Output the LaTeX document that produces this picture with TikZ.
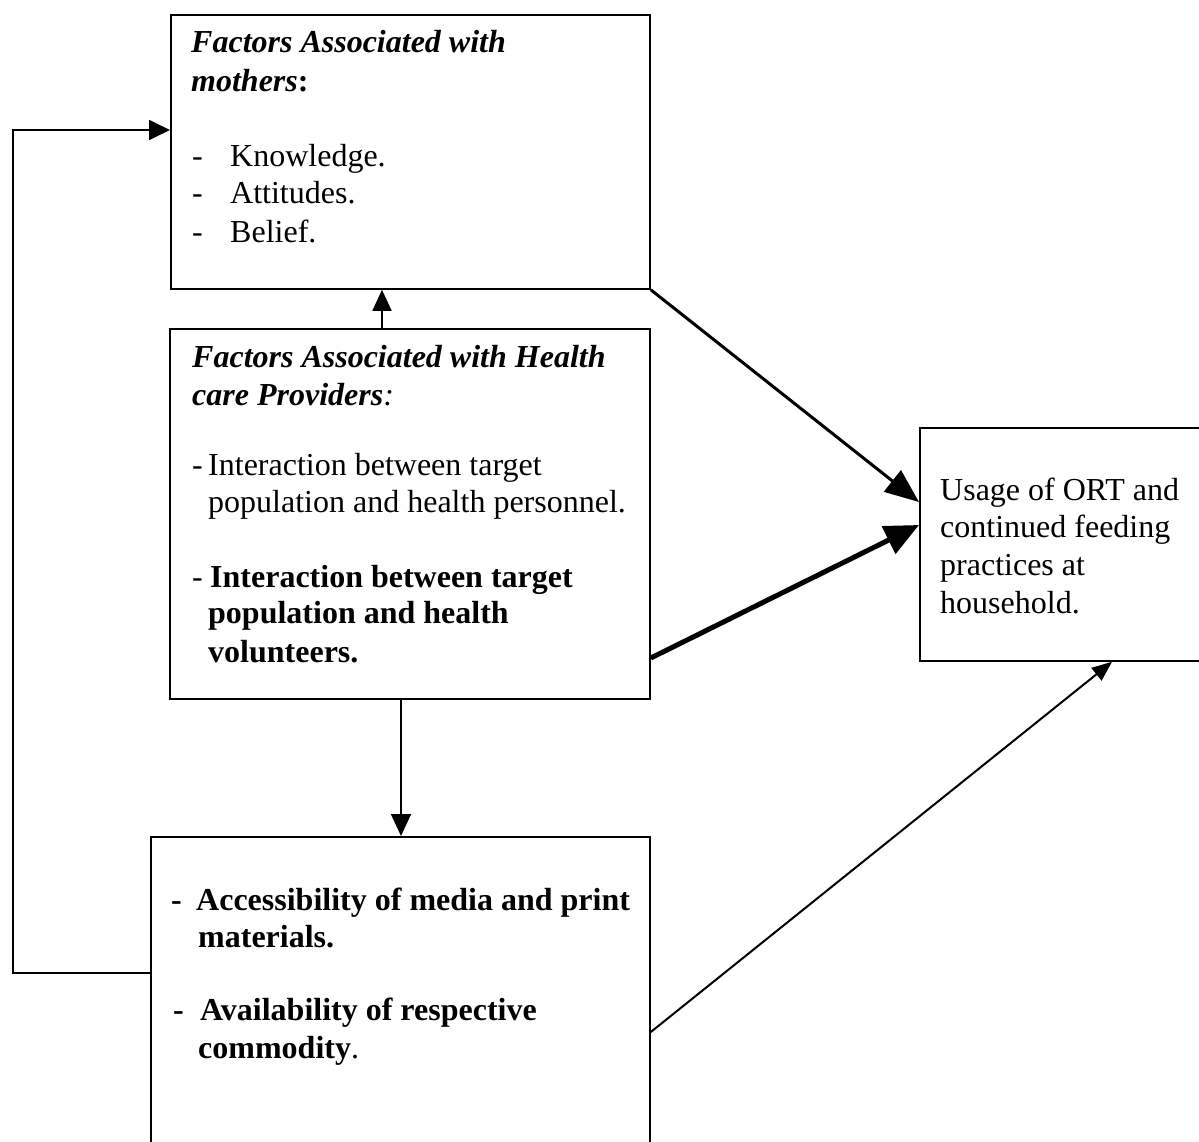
\documentclass[tikz,border=0pt]{standalone}
\usepackage{fontspec}
\setmainfont{Liberation Serif}
\usetikzlibrary{arrows.meta}
\newcommand\myfs{\fontsize{32}{38}\selectfont}
\tikzset{
  box/.style={draw, line width=1.8pt, rectangle, inner sep=0pt, anchor=north west},
  txt/.style={anchor=base west, inner sep=0pt, font=\myfs},
  conn/.style={line width=1.8pt},
}
\begin{document}
\begin{tikzpicture}[x=1pt,y=-1pt]
\useasboundingbox (0,0) rectangle (1199,1142);
\fill[white] (0,0) rectangle (1199,1142);
\clip (0,0) rectangle (1199,1142);

% boxes
\node[box, minimum width=479pt, minimum height=274pt] (A) at (170,14) {};
\node[box, minimum width=480pt, minimum height=370pt] (B) at (169,328) {};
\node[box, minimum width=499pt, minimum height=340pt] (C) at (150,836) {};
\node[box, minimum width=310pt, minimum height=233pt] (D) at (919,427) {};

% box A text
\node[txt] (aH1) at (191,53) {\bfseries\itshape Factors Associated with};
\node[txt] (aH2) at (191,92) {{\bfseries\itshape mothers}{\bfseries :}};
\node[txt] (aD1) at (192,167) {-};
\node[txt] (aK) at (230,167) {Knowledge.};
\node[txt] (aD2) at (192,204) {-};
\node[txt] (aAt) at (230,204) {Attitudes.};
\node[txt] (aD3) at (192,242) {-};
\node[txt] (aBe) at (230,242) {Belief.};

% box B text
\node[txt] (bH1) at (192,367) {\bfseries\itshape Factors Associated with Health};
\node[txt] (bH2) at (192,405) {{\bfseries\itshape care Providers}{\itshape :}};
\node[txt] (bD1) at (192,475) {-};
\node[txt] (bI1) at (208,475) {Interaction between target};
\node[txt] (bI2) at (208,512) {population and health personnel.};
\node[txt] (bD2) at (192,587) {-};
\node[txt] (bV1) at (210,587) {\bfseries Interaction between target};
\node[txt] (bV2) at (208,623) {\bfseries population and health};
\node[txt] (bV3) at (208,662) {\bfseries volunteers.};

% box C text
\node[txt] (cD1) at (171,910) {\bfseries -};
\node[txt] (cA1) at (196,910) {\bfseries Accessibility of media and print};
\node[txt] (cA2) at (198,947) {\bfseries materials.};
\node[txt] (cD2) at (173,1020) {\bfseries -};
\node[txt] (cB1) at (200,1020) {\bfseries Availability of respective};
\node[txt] (cB2) at (198,1058) {{\bfseries commodity}.};

% box D text
\node[txt] (d1) at (940,500) {Usage of ORT and};
\node[txt] (d2) at (940,537) {continued feeding};
\node[txt] (d3) at (940,575) {practices at};
\node[txt] (d4) at (940,613) {household.};

% helper coordinates
\coordinate (fbTop) at (13,130);
\coordinate (fbBot) at (13,973);
\coordinate (xBA) at (382,0);
\coordinate (xBC) at (401,0);
\coordinate (yAD) at (0,502);
\coordinate (yBs) at (0,658);
\coordinate (yBD) at (0,525);
\coordinate (yCs) at (0,1032);
\coordinate (xCD) at (1112,0);

% connectors
\draw[conn, -{Triangle[length=21pt,width=20pt]}] (C.west |- fbBot) -- (fbBot) -- (fbTop) -- (A.west |- fbTop);
\draw[conn, -{Triangle[length=21pt,width=19pt]}] (B.north -| xBA) -- (A.south -| xBA);
\draw[conn, -{Triangle[length=22pt,width=20pt]}] (B.south -| xBC) -- (C.north -| xBC);
\draw[line width=3pt, -{Triangle[length=34pt,width=27pt]}] (A.south east) -- (D.west |- yAD);
\draw[line width=5pt, -{Triangle[length=34pt,width=30pt]}] (B.east |- yBs) -- (D.west |- yBD);
\draw[line width=2pt, -{Triangle[length=20pt,width=16pt]}] (C.east |- yCs) -- (D.south -| xCD);
\end{tikzpicture}
\end{document}
